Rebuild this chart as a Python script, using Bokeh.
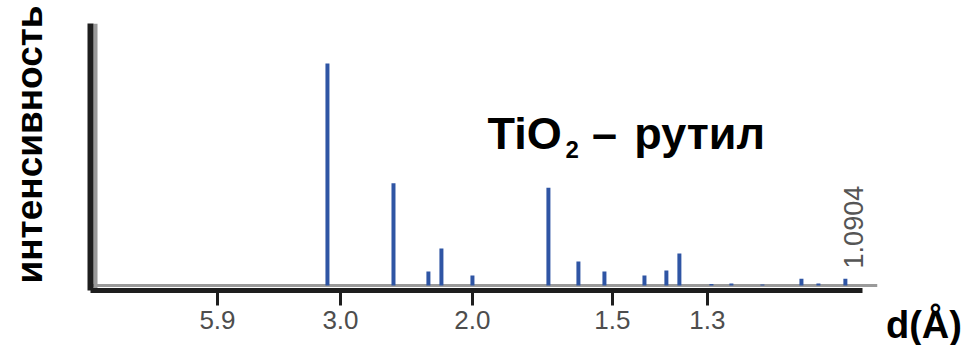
import math
from bokeh.plotting import figure
from bokeh.models import Range1d, FixedTicker, Span, Label, Title
from bokeh.embed import file_html
from bokeh.resources import INLINE

# ---- data ----
# peak positions (2θ, degrees) and relative intensities (%)
peak_2theta = [27.88, 35.65, 39.76, 41.29, 44.94, 53.88, 57.41, 60.47, 65.18,
               67.76, 69.29, 73.06, 75.41, 79.06, 83.65, 85.65, 88.82]
peak_intensity = [100, 46, 6.3, 16.7, 4.5, 44, 10.8, 6.3, 4.5,
                  6.8, 14.4, 0.7, 0.9, 0.5, 3.0, 0.9, 3.0]
# x-axis ticks: position in 2θ, labelled with d-spacing (Å)
tick_2theta = [14.94, 29.41, 44.94, 61.41, 72.59]
tick_labels = ["5.9", "3.0", "2.0", "1.5", "1.3"]
last_peak_label = "1.0904"
title_main = "TiO"
title_sub = "2"
title_dash = "–"
title_name = "рутил"
y_title = "интенсивность"
x_title = "d(Å)"

p = figure(width=971, height=345, output_backend="svg", toolbar_location=None,
           x_range=Range1d(0, 92.6), y_range=Range1d(-2.25, 118.0),
           min_border_left=90, min_border_right=94, min_border_top=23,
           min_border_bottom=55)
p.outline_line_color = None
p.xgrid.visible = False
p.ygrid.visible = False
p.background_fill_color = "white"

dark = "#1e1e1e"
tf = "Liberation Sans"
# x axis
p.xaxis.ticker = FixedTicker(ticks=tick_2theta)
p.xaxis.major_label_overrides = {t: l for t, l in zip(tick_2theta, tick_labels)}
p.xaxis.axis_line_width = 5
p.xaxis.axis_line_color = dark
p.xaxis.bounds = (0, 90.8)
p.xaxis.major_tick_line_width = 3
p.xaxis.major_tick_line_color = dark
p.xaxis.major_tick_out = 15
p.xaxis.major_tick_in = 0
p.xaxis.minor_tick_line_color = None
p.xaxis.major_label_standoff = 5
p.xaxis.major_label_text_font = tf
p.xaxis.major_label_text_font_size = "26px"
p.xaxis.major_label_text_color = "#4d4d4d"

# y axis (no ticks)
p.yaxis.ticker = FixedTicker(ticks=[])
p.yaxis.axis_line_width = 6
p.yaxis.axis_line_color = dark
p.yaxis.major_tick_line_color = None
p.yaxis.minor_tick_line_color = None

# grey shadow lines next to the axes
p.add_layout(Span(location=0, dimension="width", line_color="#9a9a9a",
                  line_width=3, level="underlay"))
p.add_layout(Span(location=0.59, dimension="height", line_color="#9a9a9a",
                  line_width=4, level="underlay"))

# peaks
p.segment(x0=peak_2theta, y0=[0] * len(peak_2theta), x1=peak_2theta,
          y1=peak_intensity, line_width=4, line_color="#2f55a4", line_cap="butt")

# label on last peak
p.add_layout(Label(x=peak_2theta[-1] + 1.0, y=7.7, text=last_peak_label,
                   angle=math.pi / 2, text_align="left", text_baseline="alphabetic",
                   text_font=tf, text_font_size="27px", text_color="#555555"))

# title TiO2 – рутил
for x, y, txt, size in [(46.71, 68.33, title_main, "45px"),
                        (55.88, 61.26, title_sub, "24px"),
                        (59.0, 68.33, title_dash, "45px"),
                        (63.99, 68.33, title_name, "45px")]:
    p.add_layout(Label(x=x, y=y, text=txt, text_font=tf, text_font_size=size,
                       text_font_style="bold", text_baseline="alphabetic",
                       text_color="black"))

# empty spacer panel between the y axis and its title
p.add_layout(Title(text=" ", standoff=38, text_font_size="1px"), "left")
# y axis title (side panel, not clipped)
p.add_layout(Title(text=y_title, align="left", offset=7, standoff=0,
                   text_font=tf, text_font_size="37px", text_font_style="bold",
                   text_color="black"), "left")

# x axis title at the lower right, outside the frame
p.add_layout(Label(x=93.59, y=-17.9, text=x_title, text_font=tf,
                   text_font_size="38px", text_font_style="bold",
                   text_baseline="alphabetic", text_color="black"), "right")

open("out.html", "w").write(file_html(p, INLINE))
